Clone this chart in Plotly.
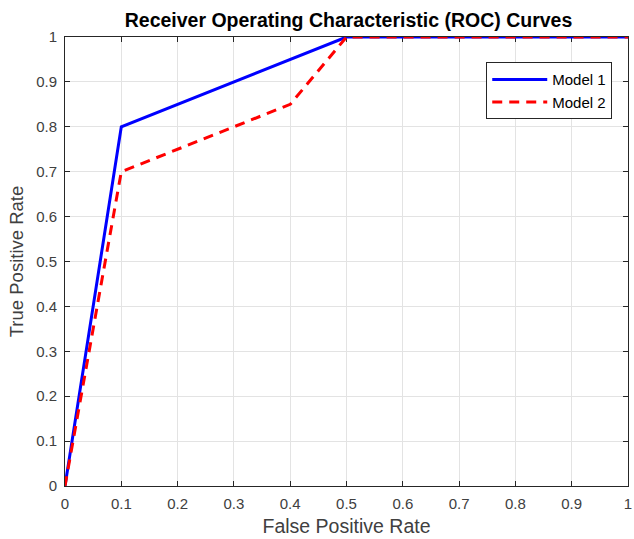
import plotly.graph_objects as go

fpr1 = [0, 0.1, 0.5, 1.0]
tpr1 = [0, 0.8, 1.0, 1.0]
fpr2 = [0, 0.1, 0.4, 0.5, 1.0]
tpr2 = [0, 0.7, 0.85, 1.0, 1.0]
names = ["Model 1", "Model 2"]
ticks = [round(i * 0.1, 1) for i in range(11)]
ticktext = ["0"] + [f"{t:g}" for t in ticks[1:-1]] + ["1"]

FONT = "Liberation Sans, Arial, Helvetica"

fig = go.Figure()
fig.add_trace(go.Scatter(x=fpr1, y=tpr1, mode="lines", name=names[0],
                         line=dict(color="#0000ff", width=3), cliponaxis=False))
fig.add_trace(go.Scatter(x=fpr2, y=tpr2, mode="lines", name=names[1],
                         line=dict(color="#ff0000", width=3, dash="10px,7px"), cliponaxis=False))

axis_common = dict(range=[0, 1], tickvals=ticks, ticktext=ticktext,
                   showgrid=True, gridcolor="#e3e3e3", gridwidth=1,
                   showline=True, linecolor="#262626", linewidth=1, mirror="ticks",
                   ticks="inside", ticklen=5, tickcolor="#262626",
                   tickfont=dict(family=FONT, size=15, color="#404040"),
                   ticklabeloverflow="allow", layer="below traces",
                   zeroline=False, fixedrange=True)

fig.update_layout(
    width=634, height=539,
    margin=dict(l=65, r=2, t=37, b=53),
    paper_bgcolor="white", plot_bgcolor="white",
    title=dict(text="<b>Receiver Operating Characteristic (ROC) Curves</b>",
               x=(65 + 632) / 2 / 634, xanchor="center",
               y=1 - 20 / 539, yanchor="middle", yref="container",
               font=dict(family=FONT, size=19.5, color="#000000")),
    xaxis=dict(**axis_common, ticklabelstandoff=4,
               title=dict(text="False Positive Rate", standoff=8,
               font=dict(family=FONT, size=19.5, color="#404040"))),
    yaxis=dict(**axis_common, ticklabelstandoff=4,
               title=dict(text="True Positive Rate", standoff=7,
               font=dict(family=FONT, size=18.5, color="#404040"))),
    legend=dict(x=0.972, y=0.944, xanchor="right", yanchor="top",
                bgcolor="white", bordercolor="#262626", borderwidth=1,
                font=dict(family=FONT, size=15, color="#000000"),
                tracegroupgap=0, itemwidth=55),
    showlegend=True,
)

fig.write_html("out.html")
